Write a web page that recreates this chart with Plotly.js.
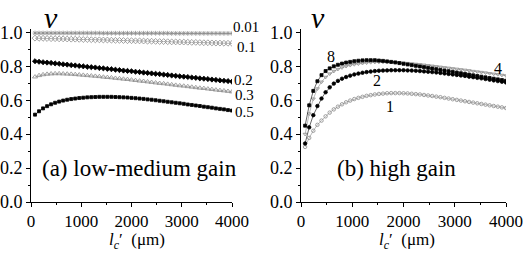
<!DOCTYPE html>
<html><head><meta charset="utf-8">
<script src="https://cdn.plot.ly/plotly-3.0.1.min.js"></script>
<style>html,body{margin:0;padding:0;background:#fff}#chart{width:527px;height:253px}</style>
</head><body><div id="chart"></div>
<script>
// x positions (um)
const XA = [80,160,240,320,400,480,560,640,720,800,880,960,1040,1120,1200,1280,1360,1440,1520,1600,1680,1760,1840,1920,2000,2080,2160,2240,2320,2400,2480,2560,2640,2720,2800,2880,2960,3040,3120,3200,3280,3360,3440,3520,3600,3680,3760,3840,3920,4000];

// panel (a) low-medium gain
const a001 = [0.996,0.996,0.996,0.996,0.996,0.996,0.996,0.996,0.996,0.996,0.996,0.996,0.996,0.996,0.996,0.996,0.996,0.995,0.995,0.995,0.995,0.995,0.995,0.995,0.995,0.995,0.995,0.995,0.995,0.995,0.995,0.995,0.995,0.995,0.994,0.994,0.994,0.994,0.994,0.994,0.994,0.994,0.994,0.994,0.994,0.994,0.994,0.994,0.994,0.994];
const a01 = [0.966,0.965,0.965,0.964,0.963,0.963,0.962,0.962,0.961,0.960,0.960,0.959,0.958,0.958,0.957,0.956,0.956,0.955,0.955,0.954,0.953,0.953,0.952,0.951,0.951,0.950,0.950,0.949,0.948,0.948,0.947,0.946,0.946,0.945,0.944,0.944,0.943,0.943,0.942,0.941,0.941,0.940,0.939,0.939,0.938,0.937,0.937,0.936,0.936,0.935];
const a02 = [0.830,0.827,0.824,0.822,0.820,0.817,0.815,0.812,0.810,0.807,0.805,0.802,0.800,0.797,0.795,0.793,0.790,0.788,0.785,0.783,0.780,0.778,0.775,0.773,0.771,0.768,0.766,0.763,0.761,0.758,0.756,0.754,0.751,0.749,0.746,0.744,0.741,0.739,0.737,0.734,0.732,0.729,0.727,0.725,0.722,0.720,0.717,0.715,0.713,0.710];
const a03 = [0.738,0.746,0.751,0.754,0.756,0.757,0.757,0.756,0.755,0.754,0.752,0.750,0.748,0.746,0.744,0.742,0.740,0.737,0.735,0.733,0.730,0.728,0.725,0.723,0.720,0.717,0.714,0.712,0.709,0.706,0.703,0.700,0.698,0.695,0.692,0.689,0.686,0.684,0.681,0.678,0.675,0.672,0.670,0.667,0.664,0.661,0.658,0.656,0.653,0.650];
const a05 = [0.515,0.535,0.552,0.565,0.576,0.585,0.592,0.598,0.603,0.607,0.610,0.613,0.615,0.617,0.618,0.619,0.620,0.620,0.620,0.620,0.619,0.618,0.617,0.616,0.614,0.612,0.610,0.608,0.605,0.603,0.600,0.597,0.594,0.591,0.588,0.585,0.582,0.579,0.575,0.572,0.569,0.566,0.562,0.559,0.556,0.552,0.549,0.546,0.542,0.539];

// panel (b) high gain
const b8 = [0.450,0.570,0.655,0.712,0.748,0.772,0.788,0.800,0.809,0.816,0.822,0.826,0.830,0.833,0.835,0.836,0.836,0.836,0.834,0.832,0.829,0.826,0.823,0.819,0.815,0.811,0.807,0.803,0.799,0.795,0.791,0.787,0.783,0.779,0.775,0.771,0.767,0.763,0.759,0.755,0.751,0.747,0.743,0.739,0.735,0.731,0.727,0.723,0.719,0.715];
const b4 = [0.400,0.520,0.608,0.668,0.708,0.736,0.756,0.771,0.783,0.792,0.800,0.806,0.811,0.815,0.818,0.821,0.823,0.824,0.825,0.825,0.825,0.824,0.823,0.822,0.820,0.818,0.816,0.813,0.811,0.808,0.805,0.802,0.799,0.796,0.793,0.790,0.787,0.784,0.781,0.778,0.775,0.771,0.768,0.765,0.762,0.758,0.755,0.752,0.748,0.745];
const b2 = [0.345,0.440,0.512,0.566,0.610,0.647,0.676,0.698,0.714,0.727,0.737,0.745,0.752,0.757,0.762,0.766,0.769,0.772,0.774,0.775,0.776,0.777,0.777,0.777,0.777,0.776,0.775,0.774,0.772,0.770,0.768,0.766,0.764,0.761,0.758,0.755,0.752,0.749,0.746,0.743,0.739,0.736,0.732,0.729,0.725,0.721,0.717,0.713,0.709,0.705];
const b1 = [0.325,0.378,0.420,0.455,0.480,0.505,0.527,0.546,0.562,0.576,0.588,0.598,0.607,0.614,0.620,0.626,0.630,0.634,0.637,0.639,0.641,0.642,0.642,0.642,0.641,0.640,0.638,0.636,0.634,0.631,0.628,0.625,0.621,0.618,0.614,0.610,0.606,0.602,0.598,0.594,0.590,0.586,0.582,0.578,0.574,0.570,0.566,0.562,0.558,0.554];

const labelsA = ['0.01','0.1','0.2','0.3','0.5'];
const labelsB = ['8','4','2','1'];
const yTicks = [0,0.2,0.4,0.6,0.8,1.0];
const yTickText = ['0.0','0.2','0.4','0.6','0.8','1.0'];
const xTicks = [0,1000,2000,3000,4000];

const GRAY = '#8a8a8a', BLACK = '#000';
function tr(x, y, ax, sym, col, size, lw) {
  return {x: x, y: y, xaxis: ax[0], yaxis: ax[1], type: 'scatter', mode: 'lines+markers',
    line: {color: col, width: lw}, marker: {symbol: sym, color: col, size: size, line: {color: col, width: 0.8}},
    showlegend: false, hoverinfo: 'skip'};
}
const A = ['x','y'], B = ['x2','y2'];
const data = [
  tr(XA, a001, A, 'asterisk-open', GRAY, 4, 0.5),
  tr(XA, a01, A, 'diamond-open', GRAY, 4.5, 0.5),
  tr(XA, a02, A, 'diamond', BLACK, 4, 0.6),
  tr(XA, a03, A, 'triangle-up-open', GRAY, 4.5, 0.5),
  tr(XA, a05, A, 'square', BLACK, 3, 0.6),
  tr(XA, b1, B, 'circle-open', GRAY, 3.5, 0.6),
  tr(XA, b4, B, 'triangle-down-open', GRAY, 3.5, 0.6),
  tr(XA, b2, B, 'circle', BLACK, 3.5, 0.6),
  tr(XA, b8, B, 'square', BLACK, 3, 0.6)
];

const FONT = 'Liberation Serif';
function xax(dom, anchor) {
  return {domain: dom, anchor: anchor, range: [0, 4000], tickvals: xTicks, ticktext: xTicks.map(String),
    ticks: 'outside', ticklen: 4, tickwidth: 1, tickcolor: '#000', showline: true, linecolor: '#000', linewidth: 1,
    showgrid: false, zeroline: false, tickfont: {family: FONT, size: 17, color: '#000'},
    minor: {dtick: 500, tick0: 0, ticks: 'outside', ticklen: 2, tickcolor: '#000', showgrid: false}};
}
function yax(anchor) {
  return {anchor: anchor, range: [0, 1.02], tickvals: yTicks, ticktext: yTickText,
    ticks: 'outside', ticklen: 4, tickwidth: 1, tickcolor: '#000', showline: true, linecolor: '#000', linewidth: 1,
    showgrid: false, zeroline: false, tickfont: {family: FONT, size: 18, color: '#000'},
    minor: {dtick: 0.1, tick0: 0, ticks: 'outside', ticklen: 2, tickcolor: '#000', showgrid: false}};
}
// pixel -> paper helpers (layout only)
const W = 527, MT = 29, MB = 51, PH = 253 - MT - MB;
const px = v => v / W, py = v => (253 - MB - v) / PH;
function ann(text, x, y, size, extra) {
  return Object.assign({text: text, xref: 'paper', yref: 'paper', x: px(x), y: py(y), xanchor: 'center', yanchor: 'middle',
    showarrow: false, font: {family: FONT, size: size, color: '#000'}}, extra || {});
}
const xTitle = '<i>l</i><sub><i>c</i></sub>\u2032  (\u03bcm)';
const annotations = [
  ann('<i>\u03bd</i>', 51, 17, 30),
  ann('<i>\u03bd</i>', 318, 17, 30),
  ann(xTitle, 137, 241, 17),
  ann(xTitle, 407, 241, 17),
  ann('(a) low-medium gain', 139, 168, 23),
  ann('(b) high gain', 396, 168, 23),
  ann(labelsA[0], 246, 27, 15),
  ann(labelsA[1], 246, 47, 15),
  ann(labelsA[2], 243, 80, 15),
  ann(labelsA[3], 244, 95, 15),
  ann(labelsA[4], 244, 112, 15),
  ann(labelsB[0], 331, 56, 16),
  ann(labelsB[1], 498, 68, 16),
  ann(labelsB[2], 377, 80, 16),
  ann(labelsB[3], 390, 106, 16)
];
const layout = {
  width: 527, height: 253, margin: {l: 0, r: 0, t: MT, b: MB, pad: 0},
  paper_bgcolor: '#fff', plot_bgcolor: 'rgba(0,0,0,0)', showlegend: false,
  font: {family: FONT, color: '#000'},
  xaxis: xax([31 / W, 232 / W], 'y'), yaxis: yax('x'),
  xaxis2: xax([301 / W, 506 / W], 'y2'), yaxis2: yax('x2'),
  annotations: annotations
};
Plotly.newPlot('chart', data, layout, {staticPlot: true, displayModeBar: false});
</script></body></html>
